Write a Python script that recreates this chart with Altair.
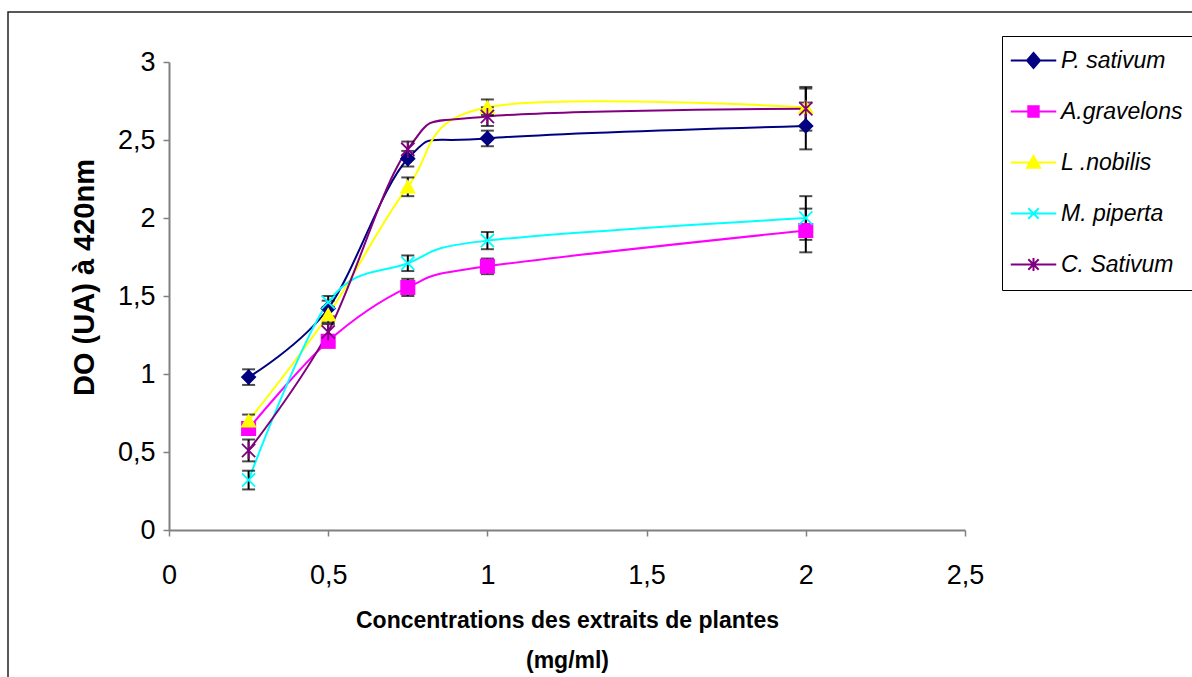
import altair as alt
import pandas as pd

# ---- data ----
series = ["P. sativum", "A.gravelons", "L .nobilis", "M. piperta", "C. Sativum"]
colors = ["#000080", "#FF00FF", "#FFFF00", "#00FFFF", "#800080"]
conc = [0.25, 0.5, 0.75, 1.0, 2.0]

p_sativum = [0.98, 1.42, 2.38, 2.51, 2.59]
p_sativum_err = [0.05, 0.05, 0.05, 0.05, 0.15]
a_gravelons = [0.65, 1.21, 1.555, 1.69, 1.92]
a_gravelons_err = [0.04, 0.04, 0.055, 0.05, 0.14]
l_nobilis = [0.70, 1.38, 2.20, 2.71, 2.71]
l_nobilis_err = [0.04, 0.05, 0.06, 0.05, 0.12]
m_piperta = [0.32, 1.46, 1.71, 1.855, 2.00]
m_piperta_err = [0.06, 0.04, 0.05, 0.055, 0.14]
c_sativum = [0.51, 1.27, 2.44, 2.65, 2.70]
c_sativum_err = [0.07, 0.05, 0.05, 0.06, 0.14]

values = [p_sativum, a_gravelons, l_nobilis, m_piperta, c_sativum]
errors = [p_sativum_err, a_gravelons_err, l_nobilis_err, m_piperta_err, c_sativum_err]

x_ticks = [0, 0.5, 1, 1.5, 2, 2.5]
y_ticks = [0, 0.5, 1, 1.5, 2, 2.5, 3]

rows = []
for name, vals, errs in zip(series, values, errors):
    for xv, yv, ev in zip(conc, vals, errs):
        rows.append({"series": name, "x": xv, "y": yv, "lo": yv - ev, "hi": yv + ev})
df = pd.DataFrame(rows)

# ---- marker shapes ----
X_PATH = "M-1,-1L1,1M1,-1L-1,1"
AST_PATH = "M-1,-1L1,1M1,-1L-1,1M0,-1.3V1.3"
point_shapes = ["diamond", "square", "triangle-up", X_PATH, AST_PATH]
LINE = "M-3.5,0H3.5"
legend_shapes = [
    LINE + "M0,-1.15L1,0L0,1.15L-1,0Z",
    LINE + "M-0.8,-0.8H0.8V0.8H-0.8Z",
    LINE + "M0,-1L1,0.8H-1Z",
    LINE + "M-0.8,-0.8L0.8,0.8M0.8,-0.8L-0.8,0.8",
    LINE + "M-0.8,-0.8L0.8,0.8M0.8,-0.8L-0.8,0.8M0,-1V1",
]

AXIS_GREY = "#808080"
FONT = "Liberation Sans"
LABEL_EXPR = "replace(format(datum.value, '~g'), '.', ',')"

x_scale = alt.Scale(domain=[0, 2.5], nice=False, zero=False)
y_scale = alt.Scale(domain=[0, 3], nice=False, zero=False)

x_axis = alt.Axis(
    title=["Concentrations des extraits de plantes", "(mg/ml)"],
    values=x_ticks, grid=False, labelExpr=LABEL_EXPR,
    labelFont=FONT, labelFontSize=27, labelColor="black", labelPadding=26,
    labelFlush=False, labelOverlap=False,
    domainColor=AXIS_GREY, domainWidth=2, tickColor=AXIS_GREY, tickWidth=1.5, tickSize=6,
    titleFont=FONT, titleFontSize=23, titleFontWeight="bold", titleColor="black",
    titleBaseline="alphabetic", titleY=97, titleLineHeight=40,
)
y_axis = alt.Axis(
    title="DO (UA)  à 420nm",
    values=y_ticks, grid=False, labelExpr=LABEL_EXPR,
    labelFont=FONT, labelFontSize=27, labelColor="black", labelPadding=8,
    labelOverlap=False,
    domainColor=AXIS_GREY, domainWidth=2, tickColor=AXIS_GREY, tickWidth=1.5, tickSize=6,
    titleFont=FONT, titleFontSize=29, titleFontWeight="bold", titleColor="black",
    titleX=-85, titleY=215, titleAlign="center", titleBaseline="middle",
)


def X():
    return alt.X("x:Q", scale=x_scale, axis=x_axis)


def Y(field):
    return alt.Y(field + ":Q", scale=y_scale, axis=y_axis)


base = alt.Chart(df)

frame = alt.Chart(pd.DataFrame({"f": [0]})).mark_rect(
    fill="transparent", stroke="#222222", strokeWidth=1.5
).encode(x=alt.value(-161), x2=alt.value(1060), y=alt.value(-50), y2=alt.value(640))

line_layers = []
point_layers = []
for name, col, shp in zip(series, colors, point_shapes):
    sub = base.transform_filter(alt.datum.series == name)
    line_layers.append(
        sub.mark_line(interpolate="cardinal", strokeWidth=2, color=col).encode(
            x=X(), y=Y("y"), order=alt.Order("x:Q")
        )
    )
    point_layers.append(
        sub.mark_point(filled=True, shape=shp, size=175, strokeWidth=1.8, opacity=1,
                       fill=col, stroke=col)
        .encode(x=X(), y=Y("y"))
    )

err_rules = base.mark_rule(color="black", strokeWidth=2).encode(
    x=X(), y=Y("lo"), y2=alt.Y2("hi:Q")
)
cap_lo = base.mark_tick(orient="horizontal", size=13, thickness=2, color="black").encode(
    x=X(), y=Y("lo")
)
cap_hi = base.mark_tick(orient="horizontal", size=13, thickness=2, color="black").encode(
    x=X(), y=Y("hi")
)

leg = alt.Legend(
    title=None, orient="none", legendX=833, legendY=-26,
    padding=13, rowPadding=27, symbolSize=169, symbolStrokeWidth=2,
    symbolOffset=7, labelOffset=16, symbolOpacity=1,
    labelFont=FONT, labelFontSize=23, labelFontStyle="italic", labelColor="black",
    labelLimit=300, strokeColor="black",
)

legend_layer = base.mark_point(filled=True, opacity=0).encode(
    x=X(), y=Y("y"),
    fill=alt.Fill("series:N", scale=alt.Scale(domain=series, range=colors), legend=leg),
    stroke=alt.Stroke("series:N", scale=alt.Scale(domain=series, range=colors), legend=leg),
    shape=alt.Shape("series:N", scale=alt.Scale(domain=series, range=legend_shapes), legend=leg),
)

chart = alt.layer(
    frame, *line_layers, err_rules, cap_lo, cap_hi, *point_layers, legend_layer
).properties(
    width=796, height=468,
    autosize=alt.AutoSizeParams(type="none"),
    padding={"left": 169, "top": 62, "right": 227, "bottom": 147},
    background="white",
).configure_view(stroke=None)

chart.save("out.html", embed_options={"renderer": "svg", "actions": False})
